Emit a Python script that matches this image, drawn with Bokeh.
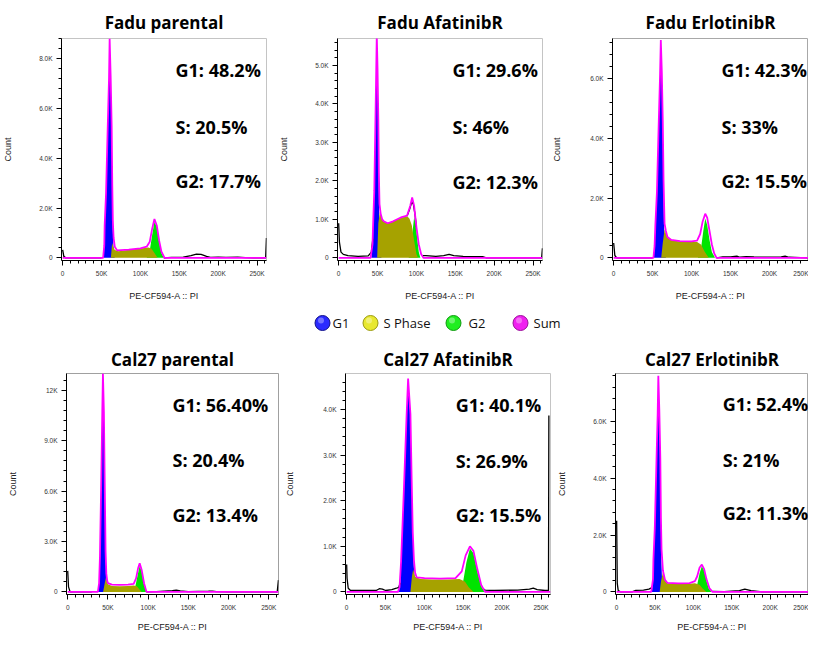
import numpy as np
from bokeh.plotting import figure
from bokeh.layouts import column, row
from bokeh.models import FixedTicker, Range1d
from bokeh.core.properties import value
from bokeh.embed import file_html
from bokeh.resources import INLINE

# ---------------- text ----------------
TITLES = ["Fadu parental", "Fadu AfatinibR", "Fadu ErlotinibR",
          "Cal27 parental", "Cal27 AfatinibR", "Cal27 ErlotinibR"]
G1_PCT = ["G1: 48.2%", "G1: 29.6%", "G1: 42.3%", "G1: 56.40%", "G1: 40.1%", "G1: 52.4%"]
S_PCT = ["S: 20.5%", "S: 46%", "S: 33%", "S: 20.4%", "S: 26.9%", "S: 21%"]
G2_PCT = ["G2: 17.7%", "G2: 12.3%", "G2: 15.5%", "G2: 13.4%", "G2: 15.5%", "G2: 11.3%"]
X_AXIS_LABEL = "PE-CF594-A :: PI"
Y_AXIS_LABEL = "Count"
LEGEND_LABELS = ["G1", "S Phase", "G2", "Sum"]

X_TICKS = [0, 50, 100, 150, 200, 250]
X_TICK_LABELS = ["0", "50K", "100K", "150K", "200K", "250K"]

Y_TICKS_1 = [0, 2000, 4000, 6000, 8000]
Y_TICK_LABELS_1 = ["0", "2.0K", "4.0K", "6.0K", "8.0K"]
Y_TICKS_2 = [0, 1000, 2000, 3000, 4000, 5000]
Y_TICK_LABELS_2 = ["0", "1.0K", "2.0K", "3.0K", "4.0K", "5.0K"]
Y_TICKS_3 = [0, 2000, 4000, 6000]
Y_TICK_LABELS_3 = ["0", "2.0K", "4.0K", "6.0K"]
Y_TICKS_4 = [0, 3000, 6000, 9000, 12000]
Y_TICK_LABELS_4 = ["0", "3.0K", "6.0K", "9.0K", "12K"]
Y_TICKS_5 = [0, 1000, 2000, 3000, 4000]
Y_TICK_LABELS_5 = ["0", "1.0K", "2.0K", "3.0K", "4.0K"]
Y_TICKS_6 = [0, 2000, 4000, 6000]
Y_TICK_LABELS_6 = ["0", "2.0K", "4.0K", "6.0K"]

# ---------------- data (x in K, y = count) ----------------
# Panel 1: Fadu parental
P1_G1_X = [52, 53.5, 54, 55.8, 57.9, 59.6, 60.4, 61.7, 63, 63.8, 64.3, 65.2, 67]
P1_G1_Y = [0, 500, 1300, 2600, 5200, 7200, 8600, 7200, 5200, 2600, 1300, 500, 0]
P1_S_X = [62, 63.6, 65, 67, 72, 85, 100, 110, 114, 118, 122]
P1_S_Y = [0, 600, 450, 320, 270, 330, 380, 420, 380, 200, 0]
P1_G2_X = [108, 112, 115, 118, 121, 124, 127, 130]
P1_G2_Y = [0, 300, 900, 1450, 1250, 650, 200, 0]
P1_SUM_X = [0, 52, 53.5, 54, 55.8, 57.9, 59.6, 60.4, 61.7, 63, 63.8, 64.5, 65.5, 67, 70, 85, 100, 108, 112, 115, 118, 121, 124, 127, 131, 262]
P1_SUM_Y = [0, 0, 500, 1300, 2600, 5200, 7200, 8800, 7300, 5300, 2900, 1500, 800, 450, 300, 330, 380, 450, 650, 1150, 1560, 1300, 700, 250, 0, 0]
P1_RAW_L_X = [0, 1.5, 4, 50]
P1_RAW_L_Y = [320, 60, 0, 0]
P1_RAW_R_X = [130, 140, 155, 165, 172, 178, 185, 190, 200, 210, 225, 235, 245, 261, 262]
P1_RAW_R_Y = [0, 20, 30, 90, 150, 140, 60, 20, 30, 20, 30, 10, 0, 0, 800]

# Panel 2: Fadu AfatinibR
P2_G1_X = [42, 43.5, 44.3, 45.8, 47.2, 48.3, 49, 50, 51, 51.7, 52.2, 53, 55]
P2_G1_Y = [0, 350, 870, 1740, 3480, 4870, 5800, 4870, 3480, 1740, 870, 350, 0]
P2_S_X = [49.5, 51, 53, 56, 62, 70, 80, 88, 91, 94, 97, 100, 102]
P2_S_Y = [0, 900, 1200, 1000, 900, 950, 1040, 1080, 1020, 850, 450, 100, 0]
P2_G2_X = [90, 94, 97, 99, 101, 103, 105]
P2_G2_Y = [0, 500, 1050, 900, 500, 150, 0]
P2_SUM_X = [0, 41, 43.5, 44.3, 45.8, 47.2, 48.3, 49, 50, 51, 51.7, 52.5, 54, 56, 58, 63, 70, 80, 88, 92, 94.5, 97, 100, 103, 106, 109, 262]
P2_SUM_Y = [0, 0, 350, 870, 1740, 3480, 4870, 5800, 4900, 3600, 2200, 1400, 1150, 1000, 950, 900, 950, 1050, 1100, 1350, 1570, 1350, 800, 350, 100, 0, 0]
P2_RAW_L_X = [0, 1, 3, 6, 12, 25, 38, 42, 44]
P2_RAW_L_Y = [900, 400, 150, 90, 60, 40, 50, 150, 500]
P2_RAW_M_X = [88, 91, 94, 96, 98, 100]
P2_RAW_M_Y = [1090, 1250, 1450, 1400, 1150, 800]
P2_RAW_R_X = [108, 112, 125, 135, 142, 148, 160, 185, 190, 261, 262]
P2_RAW_R_Y = [60, 60, 40, 60, 90, 60, 40, 30, 0, 0, 250]

# Panel 3: Fadu ErlotinibR
P3_G1_X = [51, 52.5, 53.5, 55.5, 57.7, 59.5, 60.5, 61.8, 63, 64, 64.6, 65.5, 67]
P3_G1_Y = [0, 400, 1100, 2200, 4400, 6100, 7200, 6100, 4400, 2200, 1100, 400, 0]
P3_S_X = [61, 63, 65.3, 68, 74, 85, 100, 107, 112, 117, 122]
P3_S_Y = [0, 500, 950, 750, 600, 550, 540, 530, 450, 200, 0]
P3_G2_X = [108, 112, 115, 117.5, 120, 123, 126, 130]
P3_G2_Y = [0, 300, 900, 1320, 1100, 600, 200, 0]
P3_SUM_X = [0, 51, 52.5, 53.5, 55.5, 57.7, 59.5, 60.5, 61.8, 63, 64, 65.3, 67, 69, 74, 85, 100, 107, 111, 114, 117.5, 120, 123, 126, 129, 132, 262]
P3_SUM_Y = [0, 0, 400, 1100, 2200, 4400, 6100, 7300, 6200, 4600, 2600, 1150, 900, 700, 600, 560, 550, 580, 800, 1200, 1480, 1350, 900, 450, 150, 0, 0]
P3_RAW_L_X = [0, 1.5, 4, 50]
P3_RAW_L_Y = [500, 80, 0, 0]
P3_RAW_R_X = [132, 140, 150, 158, 162, 170, 180, 200, 215, 220, 225, 240, 251]
P3_RAW_R_Y = [0, 30, 30, 60, 20, 40, 30, 20, 30, 60, 20, 10, 0]

# Panel 4: Cal27 parental
P4_G1_X = [37.5, 39, 40.1, 41.8, 43, 43.8, 45, 45.9, 47.1, 48.5, 50]
P4_G1_Y = [0, 500, 2100, 6900, 10700, 12900, 10700, 6900, 2100, 500, 0]
P4_S_X = [44, 46, 47.5, 50, 55, 65, 75, 82, 86, 89, 92]
P4_S_Y = [0, 500, 850, 450, 350, 330, 350, 380, 330, 150, 0]
P4_G2_X = [80, 84, 87, 89.5, 92, 95, 98]
P4_G2_Y = [0, 300, 1000, 1550, 1200, 400, 0]
P4_SUM_X = [0, 37.5, 39, 40.1, 41.8, 43, 43.8, 45, 45.9, 47.1, 48, 49, 50, 55, 65, 75, 82, 85, 87.5, 89.5, 92, 95, 98, 262]
P4_SUM_Y = [0, 0, 500, 2100, 6900, 10700, 13000, 10700, 7000, 2400, 1100, 700, 520, 430, 420, 430, 480, 800, 1400, 1700, 1300, 500, 0, 0]
P4_RAW_L_X = [0, 1, 3, 30]
P4_RAW_L_Y = [1250, 300, 0, 0]
P4_RAW_R_X = [98, 110, 120, 130, 135, 140, 150, 175, 180, 185, 200, 260.5, 262]
P4_RAW_R_Y = [0, 20, 50, 80, 100, 60, 20, 40, 50, 20, 0, 0, 700]

# Panel 5: Cal27 AfatinibR
P5_G1_X = [67, 69, 70, 73.7, 77, 79, 82, 83.6, 86, 88, 89]
P5_G1_Y = [0, 200, 670, 2300, 3840, 4650, 3840, 2300, 670, 100, 0]
P5_S_X = [82, 84, 85.5, 88, 95, 110, 130, 145, 152, 157, 163]
P5_S_Y = [0, 350, 490, 330, 280, 270, 270, 280, 230, 100, 0]
P5_G2_X = [145, 150, 154, 158.5, 163, 168, 173, 178]
P5_G2_Y = [0, 250, 650, 950, 850, 450, 120, 0]
P5_SUM_X = [0, 66, 68, 70, 73.7, 77, 79, 82, 83.6, 85, 86.5, 88, 90, 100, 120, 140, 148, 153, 158.5, 163, 168, 173, 178, 262]
P5_SUM_Y = [0, 0, 100, 670, 2300, 3840, 4680, 3900, 2450, 1300, 700, 420, 320, 300, 290, 300, 450, 800, 1000, 900, 500, 150, 0, 0]
P5_RAW_L_X = [0, 0.5, 2, 5, 20, 38, 42, 46, 50, 58, 64, 67, 69]
P5_RAW_L_Y = [600, 300, 80, 30, 30, 30, 70, 60, 30, 50, 80, 100, 200]
P5_RAW_R_X = [176, 178, 190, 220, 235, 240, 245, 255, 259.5, 260]
P5_RAW_R_Y = [60, 40, 30, 40, 60, 80, 50, 30, 30, 3870]

# Panel 6: Cal27 ErlotinibR
P6_G1_X = [46, 47.4, 47.9, 49.7, 51.8, 53.5, 54.3, 55.6, 56.9, 57.7, 58.2, 59.1, 61]
P6_G1_Y = [0, 450, 1130, 2250, 4500, 6300, 7500, 6300, 4500, 2250, 1130, 450, 0]
P6_S_X = [56, 58, 60.3, 63, 66, 80, 95, 102, 108, 112, 117]
P6_S_Y = [0, 400, 700, 400, 300, 280, 290, 300, 250, 120, 0]
P6_G2_X = [102, 105, 108, 111, 114, 117, 120, 124]
P6_G2_Y = [0, 250, 650, 900, 750, 400, 120, 0]
P6_SUM_X = [0, 45, 47.4, 47.9, 49.7, 51.8, 53.5, 54.3, 55.6, 56.9, 57.7, 58.5, 60.3, 63, 66, 80, 95, 102, 105, 108, 111, 114, 117, 121, 125, 262]
P6_SUM_Y = [0, 0, 450, 1130, 2250, 4500, 6300, 7600, 6400, 4700, 2600, 1500, 750, 420, 320, 300, 310, 380, 550, 850, 960, 800, 450, 120, 0, 0]
P6_RAW_L_X = [0, 0.8, 2, 5, 20, 25, 35, 42, 46]
P6_RAW_L_Y = [2500, 300, 50, 0, 0, 50, 60, 100, 150]
P6_RAW_R_X = [125, 140, 160, 167, 175, 190, 252]
P6_RAW_R_Y = [20, 10, 40, 100, 40, 0, 0]

# ---------------- styles ----------------
BLUE, OLIVE, GREEN, MAGENTA = "#0000ff", "#a6a200", "#00e400", "#ff00ff"
LEGEND_FILL = ["#2a2aff", "#e8e830", "#20ee20", "#f020f0"]
LEGEND_LINE = ["#10108a", "#9a9a10", "#109a10", "#9a109a"]

panels = [
    dict(g1=(P1_G1_X, P1_G1_Y), s=(P1_S_X, P1_S_Y), g2=(P1_G2_X, P1_G2_Y), sm=(P1_SUM_X, P1_SUM_Y),
         raw=[(P1_RAW_L_X, P1_RAW_L_Y), (P1_RAW_R_X, P1_RAW_R_Y)],
         yt=Y_TICKS_1, yl=Y_TICK_LABELS_1, ymax=8800, minor=400),
    dict(g1=(P2_G1_X, P2_G1_Y), s=(P2_S_X, P2_S_Y), g2=(P2_G2_X, P2_G2_Y), sm=(P2_SUM_X, P2_SUM_Y),
         raw=[(P2_RAW_L_X, P2_RAW_L_Y), (P2_RAW_M_X, P2_RAW_M_Y), (P2_RAW_R_X, P2_RAW_R_Y)],
         yt=Y_TICKS_2, yl=Y_TICK_LABELS_2, ymax=5700, minor=200),
    dict(g1=(P3_G1_X, P3_G1_Y), s=(P3_S_X, P3_S_Y), g2=(P3_G2_X, P3_G2_Y), sm=(P3_SUM_X, P3_SUM_Y),
         raw=[(P3_RAW_L_X, P3_RAW_L_Y), (P3_RAW_R_X, P3_RAW_R_Y)],
         yt=Y_TICKS_3, yl=Y_TICK_LABELS_3, ymax=7350, minor=400),
    dict(g1=(P4_G1_X, P4_G1_Y), s=(P4_S_X, P4_S_Y), g2=(P4_G2_X, P4_G2_Y), sm=(P4_SUM_X, P4_SUM_Y),
         raw=[(P4_RAW_L_X, P4_RAW_L_Y), (P4_RAW_R_X, P4_RAW_R_Y)],
         yt=Y_TICKS_4, yl=Y_TICK_LABELS_4, ymax=13000, minor=600),
    dict(g1=(P5_G1_X, P5_G1_Y), s=(P5_S_X, P5_S_Y), g2=(P5_G2_X, P5_G2_Y), sm=(P5_SUM_X, P5_SUM_Y),
         raw=[(P5_RAW_L_X, P5_RAW_L_Y), (P5_RAW_R_X, P5_RAW_R_Y)],
         yt=Y_TICKS_5, yl=Y_TICK_LABELS_5, ymax=4790, minor=200),
    dict(g1=(P6_G1_X, P6_G1_Y), s=(P6_S_X, P6_S_Y), g2=(P6_G2_X, P6_G2_Y), sm=(P6_SUM_X, P6_SUM_Y),
         raw=[(P6_RAW_L_X, P6_RAW_L_Y), (P6_RAW_R_X, P6_RAW_R_Y)],
         yt=Y_TICKS_6, yl=Y_TICK_LABELS_6, ymax=7680, minor=400),
]

# layout (pixels)
LAYOUT = [
    dict(w=274, h=303, bl=61, br=8, bt=38, bb=41, xend=262.1, outline="#c4c4c4", als=23, xls=11,
         tdx=114, tdy=[32, 89, 144], tsd=10),
    dict(w=274, h=303, bl=63, br=6, bt=38, bb=41, xend=262.1, outline="#c4c4c4", als=23, xls=11,
         tdx=115, tdy=[32, 89, 145], tsd=10),
    dict(w=260, h=303, bl=64, br=0, bt=38, bb=41, xend=250, outline="#a8a8a8", als=25, xls=11,
         tdx=109, tdy=[32, 89, 144], tsd=10),
    dict(w=282, h=303, bl=66, br=4, bt=42, bb=38, xend=262.1, outline="#a0a0a0", als=23, xls=8,
         tdx=106, tdy=[32, 87, 143], tsd=6),
    dict(w=272, h=303, bl=58, br=4, bt=42, bb=38, xend=262.1, outline="#c4c4c4", als=25, xls=8,
         tdx=113, tdy=[32, 88, 143], tsd=6),
    dict(w=254, h=303, bl=58, br=0, bt=42, bb=38, xend=250, outline="#a8a8a8", als=23, xls=8,
         tdx=109, tdy=[31, 87, 141], tsd=6),
]
X_START = -1.5


def make_panel(i):
    d, L = panels[i], LAYOUT[i]
    ymax = d["ymax"]
    ystart = -ymax * 0.012
    fw = L["w"] - L["bl"] - L["br"]
    fh = L["h"] - L["bt"] - L["bb"]
    p = figure(width=L["w"], height=L["h"], output_backend="svg", toolbar_location=None,
               x_range=Range1d(X_START, L["xend"]), y_range=Range1d(ystart, ymax),
               min_border_left=L["bl"], min_border_right=L["br"],
               min_border_top=L["bt"], min_border_bottom=L["bb"],
               background_fill_color="white", border_fill_color="white")
    p.outline_line_color = L["outline"]
    p.grid.visible = False

    p.title.text = TITLES[i]
    p.title.align = "center"
    p.title.text_font = "Open Sans"
    p.title.text_font_style = "bold"
    p.title.text_font_size = "17px"
    p.title.text_color = "black"
    p.title.standoff = L["tsd"]

    p.varea(x=d["g1"][0], y1=0, y2=d["g1"][1], fill_color=BLUE, fill_alpha=1)
    p.varea(x=d["g2"][0], y1=0, y2=d["g2"][1], fill_color=GREEN, fill_alpha=1)
    p.varea(x=d["s"][0], y1=0, y2=d["s"][1], fill_color=OLIVE, fill_alpha=1)
    for rx, ry in d["raw"]:
        p.line(x=rx, y=ry, line_color="black", line_width=1.3)
    p.line(x=d["sm"][0], y=d["sm"][1], line_color=MAGENTA, line_width=1.8)

    xt = X_START + L["tdx"] / fw * (L["xend"] - X_START)
    yts = [ymax - dy / fh * (ymax - ystart) for dy in L["tdy"]]
    p.text(x=[xt] * 3, y=yts, text=[G1_PCT[i], S_PCT[i], G2_PCT[i]],
           text_font=value("Open Sans"), text_font_style="bold", text_font_size="18px",
           text_baseline="middle", text_align="left", text_color="black")

    minor_x = [v for v in range(0, 270, 10)]
    p.xaxis.ticker = FixedTicker(ticks=X_TICKS, minor_ticks=minor_x)
    p.xaxis.major_label_overrides = {t: l for t, l in zip(X_TICKS, X_TICK_LABELS)}
    minor_y = list(np.arange(0, ymax + 1, d["minor"]))
    p.yaxis.ticker = FixedTicker(ticks=d["yt"], minor_ticks=minor_y)
    p.yaxis.major_label_overrides = {t: l for t, l in zip(d["yt"], d["yl"])}
    p.xaxis.axis_label = X_AXIS_LABEL
    p.yaxis.axis_label = Y_AXIS_LABEL
    for ax in (p.xaxis[0], p.yaxis[0]):
        ax.axis_line_color = "black"
        ax.major_tick_line_color = "black"
        ax.minor_tick_line_color = "black"
        ax.major_tick_out = 5
        ax.major_tick_in = 0
        ax.minor_tick_out = 3
        ax.minor_tick_in = 0
        ax.major_label_text_font = "Liberation Sans"
        ax.major_label_text_font_size = "6.5px"
        ax.major_label_text_color = "#333333"
        ax.axis_label_text_font = "Liberation Sans"
        ax.axis_label_text_font_size = "9px"
        ax.axis_label_text_font_style = "normal"
        ax.axis_label_text_color = "#222222"
        ax.major_label_standoff = 4
    p.xaxis.axis_label_standoff = L["xls"]
    p.yaxis.axis_label_standoff = L["als"]
    return p


figs = [make_panel(i) for i in range(6)]

# legend strip between the two rows
LEG_W, LEG_H = 808, 28
leg = figure(width=LEG_W, height=LEG_H, output_backend="svg", toolbar_location=None,
             x_range=Range1d(0, LEG_W), y_range=Range1d(0, LEG_H),
             min_border_left=0, min_border_right=0, min_border_top=0, min_border_bottom=0)
leg.axis.visible = False
leg.grid.visible = False
leg.outline_line_color = None
LEG_CX = [322, 370, 453, 520]
LEG_TX = [332, 383, 468, 533]
LEG_CY = 8.5
leg.scatter(x=LEG_CX, y=[LEG_CY] * 4, marker="circle", size=15, fill_color=LEGEND_FILL,
            line_color=LEGEND_LINE, line_width=1)
leg.scatter(x=[c - 1.5 for c in LEG_CX], y=[LEG_CY + 2.5] * 4, marker="circle", size=6,
            fill_color="white", fill_alpha=0.35, line_color=None)
leg.text(x=LEG_TX, y=[LEG_CY] * 4, text=LEGEND_LABELS, text_font=value("Open Sans"),
         text_font_size="13px", text_baseline="middle", text_color="#111111")

layout = column(row(*figs[:3]), leg, row(*figs[3:]))
open("out.html", "w").write(file_html(layout, INLINE))
